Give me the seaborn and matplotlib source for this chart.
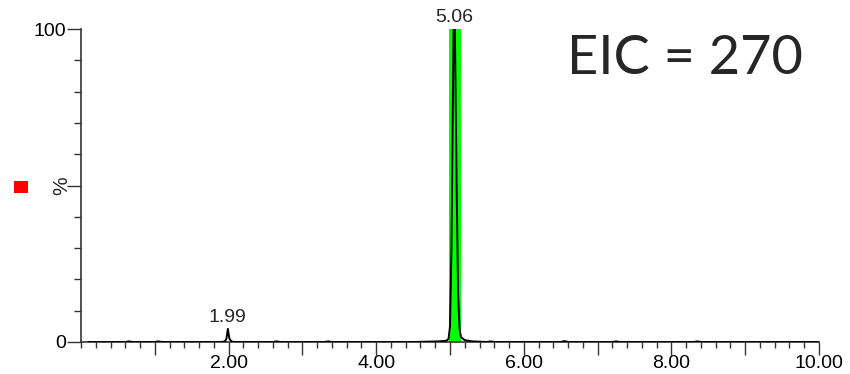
import matplotlib
matplotlib.use("Agg")
import matplotlib.pyplot as plt
import seaborn as sns
import pandas as pd
from matplotlib.patches import Rectangle
from matplotlib.ticker import MultipleLocator, FixedLocator

sns.set_style("white")
plt.rcParams['font.family'] = ['Liberation Sans', 'DejaVu Sans']

# Chromatogram trace (retention time in min, relative intensity in %)
times = [0.10, 0.40, 0.60, 0.65, 0.70, 1.00, 1.05, 1.10, 1.40, 1.60, 1.90,
         1.95, 1.97, 1.99, 2.01, 2.03, 2.06, 2.30, 2.60, 2.65, 2.70,
         3.00, 3.30, 3.35, 3.40, 3.80, 4.20, 4.50, 4.85, 4.95,
         4.98, 5.00, 5.02, 5.04, 5.05, 5.06, 5.07, 5.09, 5.11, 5.13,
         5.15, 5.20, 5.30, 5.50, 5.55, 5.60, 6.00, 6.50, 6.55, 6.60,
         7.00, 7.20, 7.25, 7.30, 7.80, 8.30, 8.35, 8.40, 9.00, 9.50, 10.00]
intensity = [0.0, 0.0, 0.0, 0.2, 0.0, 0.0, 0.2, 0.0, 0.0, 0.0, 0.0,
             0.2, 1.0, 4.2, 1.2, 0.4, 0.0, 0.0, 0.0, 0.2, 0.0,
             0.0, 0.0, 0.2, 0.0, 0.0, 0.0, 0.0, 0.2, 0.4,
             1.0, 5.0, 30.0, 80.0, 104.0, 108.0, 92.0, 50.0, 15.0, 4.0,
             1.5, 0.6, 0.2, 0.0, 0.2, 0.0, 0.0, 0.0, 0.3, 0.0,
             0.0, 0.0, 0.2, 0.0, 0.0, 0.0, 0.2, 0.0, 0.0, 0.0, 0.0]

peak_times = [1.99, 5.06]
peak_labels = ["1.99", "5.06"]
peak_heights = [4.2, 100.0]

integration_window = (4.99, 5.155)
title_text = "EIC = 270"

df = pd.DataFrame({"time": times, "intensity": intensity})

fig = plt.figure(figsize=(8.5, 3.74), dpi=100)
ax = fig.add_axes([81/850, 32/374, (819-81)/850, (342-29)/374])

ax.axvspan(integration_window[0], integration_window[1], ymin=0, ymax=1,
           color="#00ff00", zorder=1, lw=0)
sns.lineplot(data=df, x="time", y="intensity", ax=ax, color="black",
             linewidth=1.4, zorder=3)

ax.set_xlim(0, 10)
ax.set_ylim(0, 100)

for t, lab, h in zip(peak_times, peak_labels, peak_heights):
    ax.annotate(lab, xy=(t, h), xytext=(0, 2), textcoords="offset points",
                ha="center", va="bottom", fontsize=14, annotation_clip=False)

ax.text(0.818, 0.905, title_text, transform=ax.transAxes, ha="center",
        va="center", fontsize=39, fontweight="normal",
        family=["Lato", "DejaVu Sans"])

# Axes styling
for s in ["top", "right"]:
    ax.spines[s].set_visible(False)
for s in ["left", "bottom"]:
    ax.spines[s].set_color("#333333")
    ax.spines[s].set_linewidth(1.2)

ax.xaxis.set_major_locator(FixedLocator([1, 2, 3, 4, 5, 6, 7, 8, 9, 10]))
ax.set_xticklabels(["", "2.00", "", "4.00", "", "6.00", "", "8.00", "", "10.00"])
ax.xaxis.set_minor_locator(MultipleLocator(0.2))
ax.yaxis.set_major_locator(FixedLocator([0, 50, 100]))
ax.set_yticklabels(["0", "", "100"])
ax.yaxis.set_minor_locator(MultipleLocator(10))

ax.tick_params(which="both", bottom=True, left=True)
ax.tick_params(axis="x", which="major", direction="out", length=9, width=1,
               color="#333333", labelsize=14, labelcolor="black", pad=0.5)
ax.tick_params(axis="x", which="minor", direction="out", length=4.5, width=1,
               color="#333333")
ax.tick_params(axis="y", which="major", direction="out", length=10, width=1,
               color="#333333", labelsize=14, labelcolor="black", pad=1)
ax.tick_params(axis="y", which="minor", direction="out", length=5, width=1,
               color="#333333")

ax.set_xlabel("")
ax.set_ylabel("")
fig.text(62/850, 1 - 186/374, "%", rotation=90, ha="center", va="center",
         fontsize=15)

fig.add_artist(Rectangle((14/850, (374-193)/374), 14/850, 12/374,
                         transform=fig.transFigure, color="#ff0000", lw=0))

fig.savefig("out.png", dpi=100)
